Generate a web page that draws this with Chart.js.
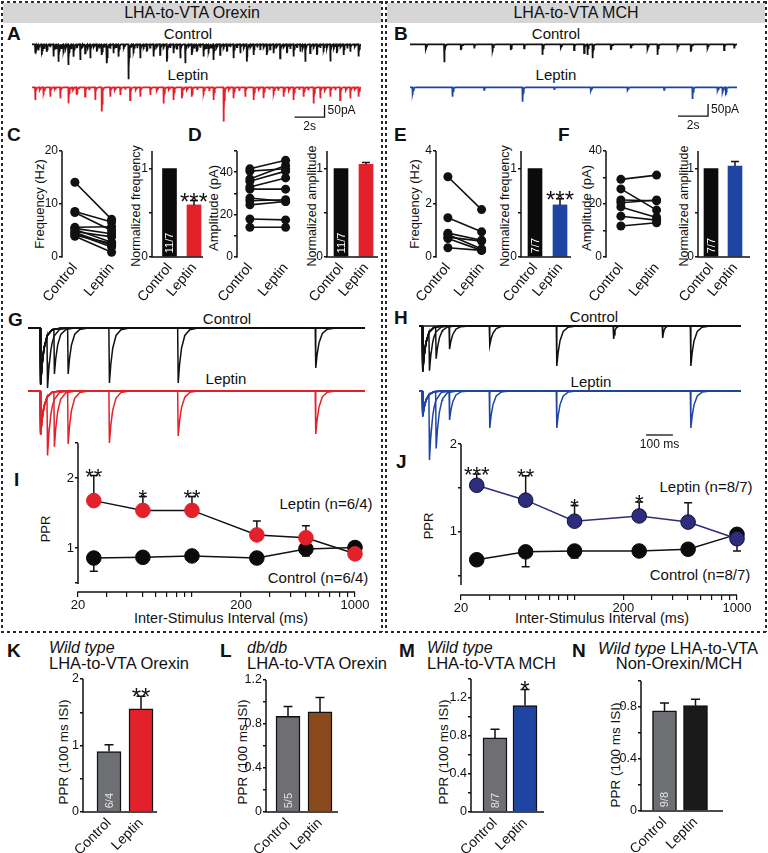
<!DOCTYPE html>
<html><head><meta charset="utf-8">
<script src="https://cdn.jsdelivr.net/npm/chart.js@4.4.1/dist/chart.umd.min.js"></script>
<style>
html,body{margin:0;padding:0;background:#fff}
body{position:relative;width:768px;height:853px;overflow:hidden;font-family:'Liberation Sans',Arial,Helvetica,sans-serif;color:#111}
canvas{position:absolute}
.t{position:absolute;white-space:nowrap;line-height:1}
.hd{position:absolute;background:#d6d6d6}
.dh{position:absolute;height:2px;background:repeating-linear-gradient(90deg,#2a2a2a 0 3px,transparent 3px 6px)}
.dv{position:absolute;width:2px;background:repeating-linear-gradient(180deg,#2a2a2a 0 3px,transparent 3px 6px)}
</style></head><body>
<div class="hd" style="left:3px;top:3px;width:378px;height:20px"></div>
<div class="hd" style="left:387px;top:3px;width:378px;height:20px"></div>
<div class="dh" style="left:1px;top:1px;width:382px"></div>
<div class="dh" style="left:385px;top:1px;width:382px"></div>
<div class="dv" style="left:1px;top:1px;height:631px"></div>
<div class="dv" style="left:381px;top:1px;height:631px"></div>
<div class="dv" style="left:385px;top:1px;height:631px"></div>
<div class="dv" style="left:765px;top:1px;height:631px"></div>
<div class="dh" style="left:1px;top:631px;width:766px"></div>
<script>
// ================= DATA =================
const groups = ['Control', 'Leptin'];

// A: LHA-to-VTA orexin sEPSCs (event time s, amplitude pA)
const aCtrlT = [0.2,0.42,0.64,0.98,1.42,1.76,2.09,2.42,2.76,3.2,3.53,3.87,4.31,4.64,4.98,5.42,5.76,6.42,6.76,7.2,7.64,8.09,8.53,8.98,9.42,9.87,10.2,10.64,10.98,11.42,11.76,12.09,12.53,12.98,13.42,13.87,14.31,14.76,15.2,15.64,16.09,16.53,16.98,17.42,17.87,18.2,18.53,18.98,19.42,19.87,20.31,20.76,21.2,21.76];
const aCtrlAmp = [38,24,44,31,51,72,37,86,51,65,37,58,31,44,79,37,51,146,37,58,31,51,44,72,37,58,79,44,31,51,37,65,44,31,58,37,72,44,24,44,37,58,37,51,31,72,37,44,31,72,37,44,31,51];
const aCtrlMiniT = [0.31,0.8,1.2,1.6,1.93,2.25,2.6,2.98,3.37,3.7,4.1,4.47,4.8,5.2,5.6,6.1,6.6,7.0,7.42,7.86,8.3,8.75,9.2,9.65,10.42,10.8,11.2,11.6,11.93,12.3,12.75,13.2,13.65,14.1,14.55,15.0,15.42,15.86,16.3,16.75,17.2,17.65,18.05,18.75,19.2,19.65,20.1,20.55,21.0,21.5];
const aCtrlMiniAmp = [14,18,12,20,15,13,19,16,12,21,14,17,13,18,15,20,12,16,19,14,13,18,15,21,12,17,14,19,13,16,20,12,15,18,14,13,17,21,12,16,19,14,13,18,15,12,20,14,17,13];
const aLepT = [0.2,0.76,1.2,1.87,2.42,2.98,3.53,4.2,4.64,5.2,5.87,6.53,7.2,7.87,8.76,9.42,9.98,10.64,11.42,12.09,12.76,13.42,14.2,14.76,15.42,16.09,16.76,17.42,18.09,18.76,19.2,19.87,20.53,21.2,21.76];
const aLepAmp = [53,32,39,46,67,32,39,53,101,39,32,53,39,32,67,53,46,39,32,53,143,46,39,53,46,32,39,53,39,67,46,39,53,46,39];
const aLepMiniT = [0.5,1.5,2.7,3.8,5.5,6.2,6.9,8.3,9.1,10.3,11.0,11.8,13.1,13.8,15.1,15.8,16.4,17.1,17.8,18.4,19.5,20.2,20.9,21.5];
const aLepMiniAmp = [14,11,16,12,15,10,13,17,12,14,11,16,13,15,12,10,14,17,11,13,16,12,15,11];

// B: LHA-to-VTA MCH sEPSCs
const bCtrlT = [1.04,2.27,3.38,4.27,5.49,6.71,7.6,8.82,10.04,10.93,11.6,11.82,12.16,13.38,14.71,15.82,16.49,17.82,18.71,19.82,20.93,21.6];
const bCtrlAmp = [24,75,24,17,31,24,17,44,17,24,37,44,58,24,17,24,44,21,31,21,24,17];
const bLepT = [0.16,2.82,4.93,7.49,9.6,12.04,14.49,16.93,18.82,20.49,20.82,21.04];
const bLepAmp = [32,39,11,60,11,18,14,11,49,18,25,32];

// C, D (orexin)  E, F (MCH)
const cCtrlFreq = [14.1,8.6,8.4,5.6,5.4,5.2,4.8,4.6,4.4,4.1,3.9];
const cLepFreq  = [7.1,6.6,5.0,5.7,4.4,2.8,3.8,2.2,1.9,2.6,0.9];
const cNormFreq = [1, 0.59], cNormFreqErr = [0, 0.05];
const dCtrlAmp = [41.6,40.5,36.8,35.7,33,32,27.8,26.5,24.6,17.9,14];
const dLepAmp  = [45.6,41.6,43.2,40.5,37.3,32,26.2,27,26.2,17.5,14];
const dNormAmp = [1, 1.05], dNormAmpErr = [0, 0.02];
const eCtrlFreq = [3.03,1.48,0.9,0.85,0.75,0.7,0.35];
const eLepFreq  = [1.79,0.95,0.63,0.3,0.6,0.25,0.25];
const eNormFreq = [1, 0.59], eNormFreqErr = [0, 0.07];
const fCtrlAmp = [29.3,25.7,21.5,20.5,18.9,15.4,11.7];
const fLepAmp  = [30.9,17.7,21.2,21.5,14.9,13.9,12.9];
const fNormAmp = [1, 1.03], fNormAmpErr = [0, 0.05];
const normStars = ['', '***'];
const nOrexinCells = '11/7', nMchCells = '7/7';
const freqOrxTicks = [0,10,20], freqOrxLabels = ['0','10','20'];
const ampOrxTicks = [0,10,20,30,40,50], ampOrxLabels = ['0','','20','','40',''];
const freqMchTicks = [0,2,4], freqMchLabels = ['0','2','4'];
const ampMchTicks = [0,10,20,30,40], ampMchLabels = ['0','','20','','40'];
const normTicks = [0,0.5,1], normLabels = ['0','','1'];

// G, H evoked EPSC pairs (ms, amplitude a.u.)
const isi = [25,50,100,250,500,1000];
const gStim = 44, hStim = 12;
const gCtrlAmp1 = [114,112,110,114,108,112], gCtrlAmp2 = [106,90,92,110,110,80];
const gLepAmp1  = [88,86,84,88,82,86],       gLepAmp2  = [118,110,106,104,90,86];
const hCtrlAmp1 = [92,90,88,92,86,90],       hCtrlAmp2 = [78,64,46,38,80,80];
const hCtrlSpontT = [724,907], hCtrlSpontAmp = [26,24];
const hLepAmp1  = [50,48,52,50,48,50],       hLepAmp2  = [132,114,58,74,74,74];

// I, J paired-pulse ratio vs ISI (negative error = drawn downward)
const iCtrlPPR = [0.86,0.87,0.89,0.86,0.99,1.01], iCtrlErr = [-0.19,-0.05,-0.06,-0.03,-0.1,-0.02];
const iLepPPR  = [1.68,1.54,1.54,1.19,1.15,0.92], iLepErr  = [0.36,0.2,0.2,0.2,0.17,0];
const iStars = ['**','*','**','','',''];
const jCtrlPPR = [0.68,0.77,0.78,0.78,0.80,0.97], jCtrlErr = [-0.03,-0.17,-0.08,-0.03,-0.03,0.02];
const jLepPPR  = [1.53,1.36,1.12,1.18,1.11,0.92], jLepErr  = [0.13,0.28,0.18,0.16,0.22,-0.14];
const jStars = ['***','**','*','*','',''];
const isiTicks = [20,30,40,50,60,70,80,90,100,200,300,400,500,600,700,800,900,1000];
const isiTickLabels = isiTicks.map(v => [20,200,1000].includes(v) ? String(v) : '');
const iTicks = [0.5,1,2,2.5], iLabels = ['','1','2',''];
const jTicks = [0.5,1,1.5,2], jLabels = ['','1','','2'];

// K-N PPR at 100 ms ISI
const kPPR = [0.91,1.55], kErr = [0.10,0.19], kStars = ['','**'], kCells = '6/4';
const lPPR = [0.87,0.91], lErr = [0.09,0.13], lStars = ['',''], lCells = '5/5';
const mPPR = [0.78,1.12], mErr = [0.09,0.17], mStars = ['','*'], mCells = '8/7';
const nPPR = [0.77,0.81], nErr = [0.06,0.05], nStars = ['',''], nCells = '9/8';
const kTicks = [0,0.5,1,1.5,2], kLabels = ['0','','1','','2'];
const lTicks = [0,0.2,0.4,0.6,0.8,1.0,1.2], lLabels = ['0','','0.4','','0.8','','1.2'];
const mTicks = [0,0.2,0.4,0.6,0.8,1.0,1.2,1.4], mLabels = ['0','','0.4','','0.8','','1.2',''];
const nTicks = [0,0.2,0.4,0.6,0.8,1.0], nLabels = ['0','','0.4','','0.8',''];

// ================= STYLE =================
const INK = '#111', FF = "'Liberation Sans', Arial, Helvetica, sans-serif";
const RED = '#e2212a', BLUE = '#1f45a3', NAVY = '#2d2c7e', GRAY = '#6e6f73', BROWN = '#8b4a1e', BLACK = '#0b0b0b';

// ================= HELPERS =================
function T(text, x, y, o = {}) {
  const d = document.createElement('div'); d.className = 't';
  d.innerHTML = text;
  d.style.left = x + 'px'; d.style.top = y + 'px';
  d.style.fontSize = (o.s || 15) + 'px';
  if (o.b) d.style.fontWeight = 'bold';
  if (o.i) d.style.fontStyle = 'italic';
  const ax = o.a === 'l' ? '0' : '-50%';
  d.style.transform = 'translate(' + ax + ',-50%)' + (o.r ? ' rotate(-90deg)' : '');
  document.body.appendChild(d);
}
function place(area, m) {
  const c = document.createElement('canvas');
  const W = Math.round(area.r - area.l + m.l + m.r), H = Math.round(area.b - area.t + m.t + m.b);
  c.width = W; c.height = H;
  c.style.left = (area.l - m.l) + 'px'; c.style.top = (area.t - m.t) + 'px';
  c.style.width = W + 'px'; c.style.height = H + 'px';
  document.body.appendChild(c);
  return c;
}
function base(o) {
  return Object.assign({responsive: false, maintainAspectRatio: false, animation: false, devicePixelRatio: 1, events: [],
    plugins: {legend: {display: false}, tooltip: {enabled: false}}}, o);
}
function yAx(min, max, ticks, labels, width, size) {
  return {type: 'linear', position: 'left', min, max,
    afterBuildTicks: s => { s.ticks = ticks.map(v => ({value: v})); },
    afterFit: s => { s.width = width; s.paddingTop = 0; s.paddingBottom = 0; },
    grid: {display: true, drawOnChartArea: false, drawTicks: true, tickLength: 3, color: INK, lineWidth: 1.5},
    border: {display: false},
    ticks: {autoSkip: false, maxRotation: 0, callback: (v, i) => labels[i], font: {family: FF, size}, color: INK, padding: 1}};
}
function xGroups(min, max, height, size, rot, pad) {
  return {type: 'linear', min, max, offset: false,
    afterBuildTicks: s => { s.ticks = groups.map((g, i) => ({value: i})); },
    afterFit: s => { s.height = height; s.paddingLeft = 0; s.paddingRight = 0; },
    grid: {display: false, drawTicks: false}, border: {display: false},
    ticks: {autoSkip: false, minRotation: rot, maxRotation: rot, callback: (v, i) => groups[i], font: {family: FF, size}, color: INK, padding: pad}};
}
function buildTrace(times, amps, tEnd, rise, tau) {
  const ev = times.map((t, i) => [t, amps[i]]);
  const offs = [0, rise, rise + tau * 0.4, rise + tau, rise + tau * 2, rise + tau * 3.5, rise + tau * 6];
  const ks = new Set([0, tEnd]);
  ev.forEach(([t]) => offs.forEach(o => { const k = t + o; if (k >= 0 && k <= tEnd) ks.add(Math.round(k * 1e6) / 1e6); }));
  return [...ks].sort((a, b) => a - b).map(x => ({x, y: ev.reduce((s, [t, a]) => {
    const d = x - t; if (d < 0) return s; if (d < rise) return s - a * d / rise; return s - a * Math.exp(-(d - rise) / tau);
  }, 0)}));
}

// custom drawing plugin (error bars, stars, axis lines, bar labels, scale bars)
function drawErr(chart, e) {
  const meta = chart.getDatasetMeta(e.ds), ys = chart.scales.y, ctx = chart.ctx, data = chart.data.datasets[e.ds].data;
  ctx.save(); ctx.strokeStyle = e.color || INK; ctx.lineWidth = 1.5;
  meta.data.forEach((el, i) => {
    const d = e.vals[i]; if (!d) return;
    const v = data[i].y, x = el.x, y0 = ys.getPixelForValue(v), y1 = ys.getPixelForValue(v + d);
    ctx.beginPath(); ctx.moveTo(x, y0); ctx.lineTo(x, y1); ctx.moveTo(x - e.cap, y1); ctx.lineTo(x + e.cap, y1); ctx.stroke();
  });
  ctx.restore();
}
function drawStars(chart, s) {
  const meta = chart.getDatasetMeta(s.ds), ys = chart.scales.y, ctx = chart.ctx, data = chart.data.datasets[s.ds].data;
  ctx.save(); ctx.fillStyle = INK; ctx.font = s.size + 'px ' + FF; ctx.textAlign = 'center'; ctx.textBaseline = 'alphabetic';
  meta.data.forEach((el, i) => {
    const t = s.labels[i]; if (!t) return;
    const y = ys.getPixelForValue(data[i].y + Math.max(0, s.err[i] || 0)) - s.gap;
    ctx.fillText(t, el.x, y + 0.43 * s.size);
  });
  ctx.restore();
}
const decoPlugin = {
  id: 'deco',
  beforeDatasetsDraw(chart) { const o = chart.canvas._deco || {}; if (o.err && o.errUnder) o.err.forEach(e => drawErr(chart, e)); },
  afterDatasetsDraw(chart) {
    const o = chart.canvas._deco || {}, ctx = chart.ctx;
    if (o.err && !o.errUnder) o.err.forEach(e => drawErr(chart, e));
    if (o.barText) {
      const b = o.barText, el = chart.getDatasetMeta(b.ds).data[b.idx];
      ctx.save(); ctx.fillStyle = b.color; ctx.font = b.size + 'px ' + FF; ctx.translate(el.x, el.base - 3); ctx.rotate(-Math.PI / 2);
      ctx.textAlign = 'left'; ctx.textBaseline = 'middle'; ctx.fillText(b.text, 0, 0.5); ctx.restore();
    }
    if (o.stars) o.stars.forEach(s => drawStars(chart, s));
  },
  afterDraw(chart) {
    const o = chart.canvas._deco || {}, ctx = chart.ctx, ca = chart.chartArea;
    if (o.axes) {
      const a = o.axes, ys = chart.scales.y, xs = chart.scales.x;
      ctx.save(); ctx.strokeStyle = INK; ctx.lineWidth = 1.5; ctx.beginPath();
      if (a.y) { const x = Math.round(ca.left) ; ctx.moveTo(x, ys.getPixelForValue(a.y[0]) + 0.75); ctx.lineTo(x, ys.getPixelForValue(a.y[1])); }
      if (a.x) {
        const y = Math.round(ca.bottom);
        const x0 = a.x === 'full' ? ca.left - 0.75 : xs.getPixelForValue(a.x[0]) - 0.75;
        const x1 = a.x === 'full' ? ca.right : xs.getPixelForValue(a.x[1]);
        ctx.moveTo(x0, y); ctx.lineTo(x1, y);
      }
      ctx.stroke(); ctx.restore();
    }
    if (o.sbar) {
      const s = o.sbar, xs = chart.scales.x, ys = chart.scales.y;
      const x0 = xs.getPixelForValue(s.x), x1 = xs.getPixelForValue(s.x + s.dx), y0 = ys.getPixelForValue(s.y), y1 = ys.getPixelForValue(s.y + s.dy);
      ctx.save(); ctx.strokeStyle = INK; ctx.lineWidth = 1.3; ctx.beginPath();
      ctx.moveTo(x0, y0); ctx.lineTo(x1, y0); if (s.dy) ctx.lineTo(x1, y1); ctx.stroke();
      ctx.fillStyle = INK; ctx.font = s.size + 'px ' + FF;
      if (s.ly) { ctx.textAlign = 'left'; ctx.textBaseline = 'middle'; ctx.fillText(s.ly, x1 + 3, (y0 + y1) / 2); }
      ctx.textAlign = 'center'; ctx.textBaseline = 'top'; ctx.fillText(s.lx, (x0 + x1) / 2, y0 + 4);
      ctx.restore();
    }
  }
};

function traceChart(area, basePx, pxPerUnit, tEnd, sets, sbar) {
  const m = {l: 0, r: sbar ? 34 : 0, t: 0, b: 0};
  const c = place(area, m);
  c._deco = sbar ? {sbar} : {};
  new Chart(c, {type: 'line',
    data: {datasets: sets.map(s => ({data: s.data, borderColor: s.color, borderWidth: s.w, pointRadius: 0, tension: 0, fill: false}))},
    options: base({layout: {padding: {left: 0, top: 0, bottom: 0, right: m.r}}, scales: {
      x: {type: 'linear', display: false, min: 0, max: tEnd},
      y: {type: 'linear', display: false, min: -(area.b - basePx) / pxPerUnit, max: (basePx - area.t) / pxPerUnit}}}),
    plugins: [decoPlugin]});
}
function pairedChart(area, m, px, ctrl, lep, yMax, ticks, labels) {
  const u = px[1] - px[0];
  const c = place(area, m);
  c._deco = {axes: {y: [0, yMax]}};
  new Chart(c, {type: 'line',
    data: {datasets: ctrl.map((v, i) => ({data: [{x: 0, y: v}, {x: 1, y: lep[i]}], borderColor: INK, backgroundColor: INK, borderWidth: 1.6,
      pointRadius: 4.5, pointBackgroundColor: INK, pointBorderColor: INK, pointBorderWidth: 0, clip: 12}))},
    options: base({layout: {padding: {left: 0, top: m.t, right: m.r, bottom: 0}},
      scales: {x: xGroups((area.l - px[0]) / u, (area.r - px[0]) / u, m.b, 14, 50, 3), y: yAx(0, yMax, ticks, labels, m.l, 12)}}),
    plugins: [decoPlugin]});
}
function barChart(area, m, px, vals, errs, colors, o) {
  const u = px[1] - px[0];
  const c = place(area, m);
  c._deco = {axes: {y: [0, o.axisTop], x: 'full'}, err: [{ds: 0, vals: errs, cap: o.cap}],
    stars: [{ds: 0, labels: o.stars, err: errs, size: o.starSize, gap: o.starGap}],
    barText: {ds: 0, idx: 0, text: o.n, size: o.nSize, color: o.nColor}};
  new Chart(c, {type: 'bar',
    data: {datasets: [{data: vals.map((v, i) => ({x: i, y: v})), backgroundColor: colors, borderColor: INK, borderWidth: o.bw, borderSkipped: 'start', barThickness: o.thick}]},
    options: base({layout: {padding: {left: 0, top: m.t, right: m.r, bottom: 0}},
      scales: {x: xGroups((area.l - px[0]) / u, (area.r - px[0]) / u, m.b, o.xSize, o.rot, o.xPad), y: yAx(0, o.yMax, o.ticks, o.labels, m.l, o.tickSize)}}),
    plugins: [decoPlugin]});
}
function pprChart(area, m, anc, ctrl, ctrlErr, lep, lepErr, stars, lepFill, lepLine, lepBorder, ticks, labels, axisY) {
  const unit = anc.p1 - anc.p2; // px per 1 PPR unit
  const yMin = 1 - (area.b - anc.p1) / unit, yMax = 1 + (anc.p1 - area.t) / unit;
  const c = place(area, m);
  c._deco = {axes: {y: axisY, x: [20, 1000]}, errUnder: true,
    err: [{ds: 0, vals: lepErr, cap: 4, color: INK}, {ds: 1, vals: ctrlErr, cap: 4}],
    stars: [{ds: 0, labels: stars, err: lepErr, size: 22, gap: 1}]};
  new Chart(c, {type: 'line',
    data: {datasets: [
      {data: isi.map((x, i) => ({x, y: lep[i]})), borderColor: lepLine, borderWidth: 1.5, pointRadius: 7.3, pointBackgroundColor: lepFill, pointBorderColor: lepBorder, pointBorderWidth: 1, order: 0, clip: 12},
      {data: isi.map((x, i) => ({x, y: ctrl[i]})), borderColor: INK, borderWidth: 1.5, pointRadius: 7.3, pointBackgroundColor: BLACK, pointBorderColor: BLACK, pointBorderWidth: 1, order: 1, clip: 12}]},
    options: base({layout: {padding: {left: 0, top: m.t, right: m.r, bottom: 0}},
      scales: {
        x: {type: 'logarithmic', min: 20, max: 1000,
          afterBuildTicks: s => { s.ticks = isiTicks.map(v => ({value: v})); },
          afterFit: s => { s.height = m.b; s.paddingLeft = 0; s.paddingRight = 0; },
          grid: {display: true, drawOnChartArea: false, drawTicks: true, tickLength: 5, color: INK, lineWidth: 1.2},
          border: {display: false},
          ticks: {autoSkip: false, maxRotation: 0, callback: (v, i) => isiTickLabels[i], font: {family: FF, size: 13}, color: INK, padding: 1}},
        y: yAx(yMin, yMax, ticks, labels, m.l, 13)}}),
    plugins: [decoPlugin]});
}

// ================= TEXT =================
T('LHA-to-VTA Orexin', 192, 13, {s: 16});
T('LHA-to-VTA MCH', 576, 13, {s: 16});
[['A',7,33],['B',394,33],['C',7,134],['D',188,134],['E',394,134],['F',558,134],['G',8,319],['H',394,317],['I',14,479],['J',396,461],['K',7,650],['L',220,650],['M',399,650],['N',572,650]]
  .forEach(([s, x, y]) => T(s, x, y, {s: 19, b: true, a: 'l'}));
T('Control', 188, 33); T('Leptin', 188, 74);
T('Control', 556, 33); T('Leptin', 556, 74);
T('Control', 227, 318); T('Leptin', 226, 378);
T('Control', 594, 316); T('Leptin', 591, 381);
T('Frequency (Hz)', 39, 204, {s: 13, r: 1});
T('Normalized frequency', 136, 206, {s: 12.5, r: 1});
T('Amplitude (pA)', 213, 208, {s: 13, r: 1});
T('Normalized amplitude', 312, 206, {s: 12.5, r: 1});
T('Frequency (Hz)', 414, 204, {s: 13, r: 1});
T('Normalized frequency', 505, 206, {s: 12.5, r: 1});
T('Amplitude (pA)', 586, 208, {s: 13, r: 1});
T('Normalized amplitude', 684, 206, {s: 12.5, r: 1});
T('PPR', 45, 529, {s: 13, r: 1});
T('PPR', 428, 526, {s: 13, r: 1});
T('Leptin (n=6/4)', 326, 503, {s: 15}); T('Control (n=6/4)', 318, 577, {s: 15});
T('Leptin (n=8/7)', 706, 486, {s: 15}); T('Control (n=8/7)', 700, 574, {s: 15});
T('Inter-Stimulus Interval (ms)', 221, 618, {s: 14.5});
T('Inter-Stimulus Interval (ms)', 602, 618, {s: 14.5});
T('Wild type', 49, 648, {s: 16, i: true, a: 'l'}); T('LHA-to-VTA Orexin', 49, 663, {s: 16.5, a: 'l'});
T('db/db', 247, 648, {s: 16, i: true, a: 'l'}); T('LHA-to-VTA Orexin', 247, 663, {s: 16.5, a: 'l'});
T('Wild type', 427, 648, {s: 16, i: true, a: 'l'}); T('LHA-to-VTA MCH', 427, 663, {s: 16.5, a: 'l'});
T('<i>Wild type</i> LHA-to-VTA', 678, 648, {s: 16.5}); T('Non-Orexin/MCH', 679, 663, {s: 16.5});
T('PPR (100 ms ISI)', 64, 752, {s: 13.5, r: 1});
T('PPR (100 ms ISI)', 243, 752, {s: 13.5, r: 1});
T('PPR (100 ms ISI)', 444, 752, {s: 13.5, r: 1});
T('PPR (100 ms ISI)', 616, 755, {s: 13.5, r: 1});

// ================= CHARTS =================
// A / B spontaneous traces
const PX_PA = 0.24;
traceChart({l: 32, r: 361, t: 36, b: 84}, 44.3, PX_PA, 21.93,
  [{data: buildTrace(aCtrlT.concat(aCtrlMiniT), aCtrlAmp.concat(aCtrlMiniAmp), 21.93, 0.01, 0.04), color: INK, w: 1.8}]);
traceChart({l: 32, r: 361, t: 80, b: 136}, 87.3, PX_PA, 21.93,
  [{data: buildTrace(aLepT.concat(aLepMiniT), aLepAmp.concat(aLepMiniAmp), 21.93, 0.01, 0.04), color: RED, w: 1.8}],
  {x: 17.5, y: -124, dx: 2, dy: 50, lx: '2s', ly: '50pA', size: 12});
traceChart({l: 410, r: 737, t: 36, b: 84}, 44.3, PX_PA, 21.8,
  [{data: buildTrace(bCtrlT, bCtrlAmp, 21.8, 0.01, 0.04), color: INK, w: 1.8}]);
traceChart({l: 410, r: 737, t: 80, b: 136}, 87.3, PX_PA, 21.8,
  [{data: buildTrace(bLepT, bLepAmp, 21.8, 0.01, 0.04), color: BLUE, w: 1.8}],
  {x: 17.87, y: -120, dx: 2, dy: 50, lx: '2s', ly: '50pA', size: 12});

// C-F
const mTop = {l: 30, r: 4, t: 6, b: 54};
pairedChart({l: 62, r: 124, t: 151, b: 257}, mTop, [75, 112], cCtrlFreq, cLepFreq, 20, freqOrxTicks, freqOrxLabels);
pairedChart({l: 237, r: 300, t: 151, b: 257}, mTop, [250, 286], dCtrlAmp, dLepAmp, 50, ampOrxTicks, ampOrxLabels);
pairedChart({l: 436, r: 494, t: 151, b: 257}, mTop, [448, 482], eCtrlFreq, eLepFreq, 4, freqMchTicks, freqMchLabels);
pairedChart({l: 606, r: 668, t: 151, b: 257}, mTop, [621, 657], fCtrlAmp, fLepAmp, 40, ampMchTicks, ampMchLabels);
const topBar = {yMax: 1.2, axisTop: 1.2, ticks: normTicks, labels: normLabels, tickSize: 12, thick: 14, bw: 0, cap: 4,
  starSize: 24, starGap: 1, nSize: 11, nColor: '#fff', xSize: 14, rot: 50, xPad: 3};
barChart({l: 152, r: 203, t: 151, b: 257}, mTop, [169.5, 194], cNormFreq, cNormFreqErr, [BLACK, RED], Object.assign({}, topBar, {stars: normStars, n: nOrexinCells}));
barChart({l: 327, r: 378, t: 151, b: 257}, mTop, [341, 366], dNormAmp, dNormAmpErr, [BLACK, RED], Object.assign({}, topBar, {stars: ['', ''], n: nOrexinCells}));
barChart({l: 521, r: 571, t: 151, b: 257}, mTop, [535, 560], eNormFreq, eNormFreqErr, [BLACK, BLUE], Object.assign({}, topBar, {stars: normStars, n: nMchCells}));
barChart({l: 698, r: 750, t: 151, b: 257}, mTop, [711, 735], fNormAmp, fNormAmpErr, [BLACK, BLUE], Object.assign({}, topBar, {stars: ['', ''], n: nMchCells}));

// G / H evoked traces
const PX_UNIT = 0.5;
const sweeps = (stim, a1, a2, tEnd) => isi.map((d, i) => buildTrace([stim, stim + d], [a1[i], a2[i]], tEnd, 2, 12));
traceChart({l: 28, r: 365, t: 320, b: 392}, 328, PX_UNIT, 1225,
  sweeps(gStim, gCtrlAmp1, gCtrlAmp2, 1225).map(d => ({data: d, color: INK, w: 1.5})));
traceChart({l: 28, r: 365, t: 383, b: 456}, 391, PX_UNIT, 1225,
  sweeps(gStim, gLepAmp1, gLepAmp2, 1225).map(d => ({data: d, color: RED, w: 1.5})));
traceChart({l: 419, r: 741, t: 318, b: 378}, 326, PX_UNIT, 1201,
  sweeps(hStim, hCtrlAmp1, hCtrlAmp2, 1201).map(d => ({data: d, color: INK, w: 1.5}))
    .concat([{data: buildTrace(hCtrlSpontT, hCtrlSpontAmp, 1201, 2, 5), color: INK, w: 1.5}]));
traceChart({l: 419, r: 741, t: 383, b: 466}, 391, PX_UNIT, 1201,
  sweeps(hStim, hLepAmp1, hLepAmp2, 1201).map(d => ({data: d, color: BLUE, w: 1.5})),
  {x: 847, y: -88, dx: 100, dy: 0, lx: '100 ms', ly: '', size: 12});

// I / J
pprChart({l: 78, r: 355, t: 435, b: 592}, {l: 22, r: 16, t: 4, b: 20}, {p1: 547, p2: 475},
  iCtrlPPR, iCtrlErr, iLepPPR, iLepErr, iStars, RED, INK, RED, iTicks, iLabels, [0.5, 2.5]);
pprChart({l: 461, r: 737, t: 432, b: 595}, {l: 22, r: 16, t: 4, b: 20}, {p1: 530, p2: 440},
  jCtrlPPR, jCtrlErr, jLepPPR, jLepErr, jStars, NAVY, NAVY, '#101030', jTicks, jLabels, [0.4, 2]);

// K-N
const mBot = {l: 30, r: 4, t: 20, b: 41};
const botBar = {tickSize: 12.5, thick: 24, bw: 1.5, cap: 4.5, starSize: 24, starGap: 2, nSize: 11, nColor: '#e6e6e6', xSize: 14, rot: 45, xPad: 3};
barChart({l: 83, r: 157, t: 679, b: 812}, mBot, [109, 141], kPPR, kErr, [GRAY, RED],
  Object.assign({}, botBar, {yMax: 2, axisTop: 2, ticks: kTicks, labels: kLabels, stars: kStars, n: kCells}));
barChart({l: 266, r: 338, t: 680, b: 812}, mBot, [288, 320], lPPR, lErr, [GRAY, BROWN],
  Object.assign({}, botBar, {yMax: 1.2, axisTop: 1.2, ticks: lTicks, labels: lLabels, stars: lStars, n: lCells}));
barChart({l: 471, r: 544, t: 679, b: 812}, mBot, [495, 525], mPPR, mErr, [GRAY, BLUE],
  Object.assign({}, botBar, {yMax: 1.4, axisTop: 1.4, ticks: mTicks, labels: mLabels, stars: mStars, n: mCells}));
barChart({l: 641, r: 723, t: 681, b: 811}, mBot, [664.5, 695.5], nPPR, nErr, [GRAY, '#1b1a1a'],
  Object.assign({}, botBar, {yMax: 1.0, axisTop: 1.0, ticks: nTicks, labels: nLabels, stars: nStars, n: nCells}));
</script>
</body></html>
